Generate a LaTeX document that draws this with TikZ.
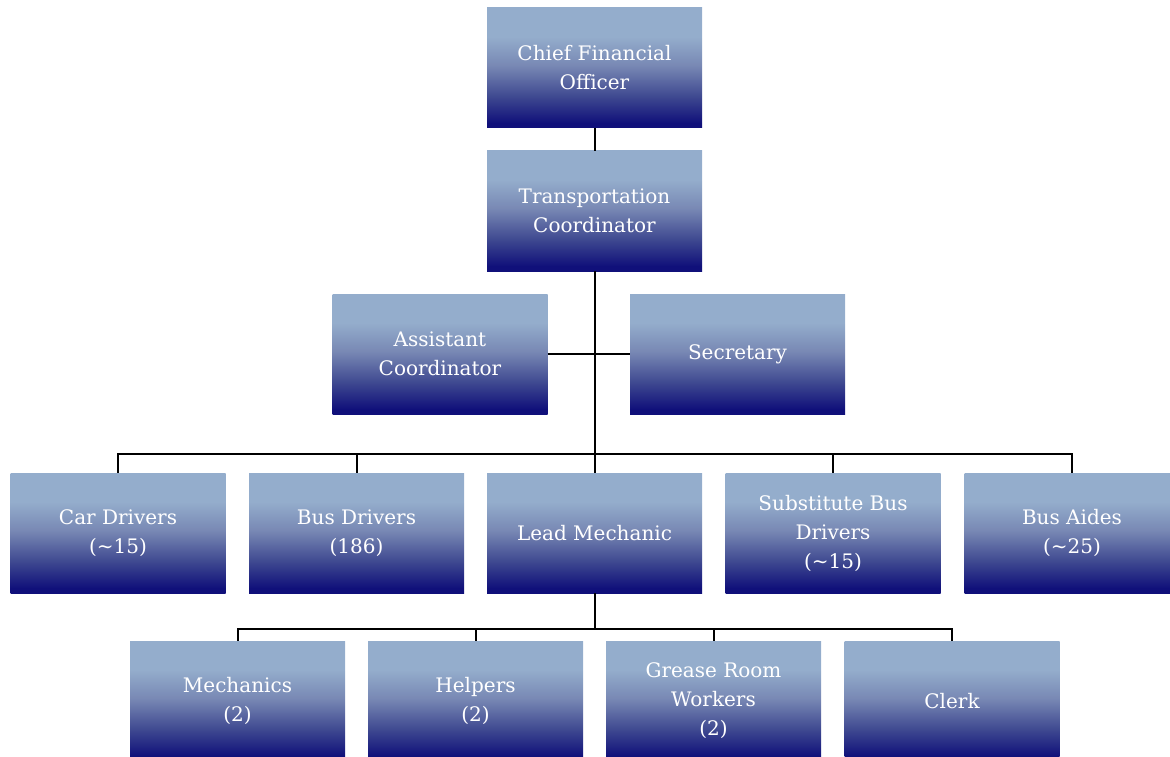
\documentclass[tikz,border=0pt]{standalone}
\usepackage{fontspec}
\setmainfont{DejaVu Serif}
\definecolor{boxlight}{HTML}{94ADCC}
\definecolor{boxmidl}{HTML}{7888B4}
\definecolor{boxmidd}{HTML}{3E4890}
\definecolor{boxdark}{HTML}{10107A}
\pgfdeclareverticalshading{orgshade}{100bp}{color(0bp)=(boxdark); color(27bp)=(boxdark); color(38bp)=(boxmidd); color(51bp)=(boxmidl); color(63bp)=(boxlight); color(100bp)=(boxlight)}
\tikzset{
  orgbox/.style={rectangle, minimum width=215pt, minimum height=120pt, inner sep=0pt,
    shading=orgshade, text=white, align=center,
    font=\fontsize{20}{29}\selectfont},
  link/.style={draw=black, line width=2pt}
}
\begin{document}
\begin{tikzpicture}[x=1pt,y=-1pt]
\useasboundingbox (0,0) rectangle (1170,757);
\clip (0,0) rectangle (1170,757);
\node[orgbox] (cfo) at (594.5,68) {Chief Financial\\Officer};
\node[orgbox] (tc) at (594.5,211) {Transportation\\Coordinator};
\node[orgbox] (ac) at (440,354) {Assistant\\Coordinator};
\node[orgbox] (sec) at (737.5,354) {Secretary};
\node[orgbox] (car) at (118,533) {Car Drivers\\(\textasciitilde15)};
\node[orgbox] (bus) at (356.5,533) {Bus Drivers\\(186)};
\node[orgbox] (lead) at (594.5,533) {Lead Mechanic};
\node[orgbox] (sub) at (833,533) {Substitute Bus\\Drivers\\(\textasciitilde15)};
\node[orgbox] (aides) at (1072,533) {Bus Aides\\(\textasciitilde25)};
\node[orgbox] (mech) at (237.5,701) {Mechanics\\(2)};
\node[orgbox] (help) at (475.5,701) {Helpers\\(2)};
\node[orgbox] (grease) at (713.5,701) {Grease Room\\Workers\\(2)};
\node[orgbox] (clerk) at (952,701) {Clerk};
\coordinate (b1) at (594.5,454);
\coordinate (b2) at (594.5,629);
\draw[link] (cfo.south) -- (tc.north);
\draw[link] (tc.south) -- (b1);
\draw[link] (ac.east) -- (sec.west);
\draw[link] (b1) -| (car.north);
\draw[link] (b1) -| (bus.north);
\draw[link] (b1) -- (lead.north);
\draw[link] (b1) -| (sub.north);
\draw[link] (b1) -| (aides.north);
\draw[link] (lead.south) -- (b2);
\draw[link] (b2) -| (mech.north);
\draw[link] (b2) -| (help.north);
\draw[link] (b2) -| (grease.north);
\draw[link] (b2) -| (clerk.north);
\end{tikzpicture}
\end{document}
